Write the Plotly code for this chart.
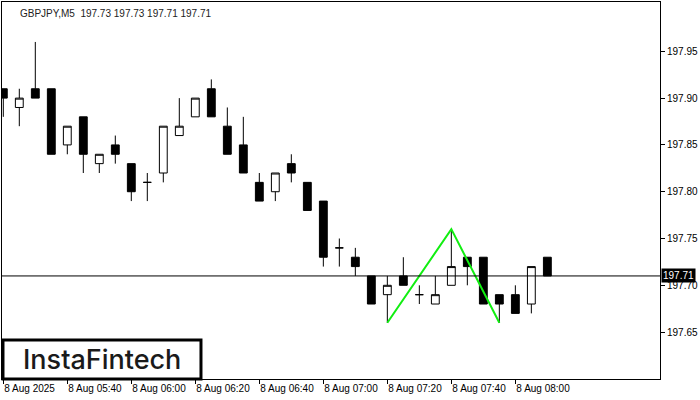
import plotly.graph_objects as go

symbol_title = "GBPJPY,M5  197.73 197.73 197.71 197.71"

times = ["05:20", "05:25", "05:30", "05:35", "05:40", "05:45", "05:50", "05:55",
         "06:00", "06:05", "06:10", "06:15", "06:20", "06:25", "06:30", "06:35",
         "06:40", "06:45", "06:50", "06:55", "07:00", "07:05", "07:10", "07:15",
         "07:20", "07:25", "07:30", "07:35", "07:40", "07:45", "07:50", "07:55",
         "08:00", "08:05", "08:10"]

opens = [197.91, 197.89, 197.91, 197.91, 197.85, 197.88, 197.83, 197.85,
         197.83, 197.81, 197.82, 197.86, 197.88, 197.91, 197.87, 197.85,
         197.81, 197.80, 197.83, 197.81, 197.79, 197.74, 197.73, 197.71,
         197.69, 197.71, 197.69, 197.68, 197.70, 197.73, 197.73, 197.69,
         197.69, 197.68, 197.73]
highs = [197.91, 197.91, 197.96, 197.91, 197.87, 197.88, 197.84, 197.86,
         197.83, 197.82, 197.87, 197.90, 197.90, 197.92, 197.89, 197.88,
         197.82, 197.82, 197.84, 197.81, 197.79, 197.75, 197.74, 197.71,
         197.71, 197.73, 197.70, 197.71, 197.76, 197.73, 197.73, 197.69,
         197.70, 197.72, 197.73]
lows = [197.88, 197.87, 197.90, 197.84, 197.84, 197.82, 197.82, 197.83,
        197.79, 197.79, 197.81, 197.86, 197.88, 197.88, 197.84, 197.82,
        197.79, 197.79, 197.81, 197.78, 197.72, 197.72, 197.71, 197.68,
        197.66, 197.70, 197.68, 197.68, 197.70, 197.70, 197.68, 197.66,
        197.67, 197.67, 197.71]
closes = [197.90, 197.90, 197.90, 197.84, 197.87, 197.84, 197.84, 197.84,
          197.80, 197.81, 197.87, 197.87, 197.90, 197.88, 197.84, 197.82,
          197.79, 197.82, 197.82, 197.78, 197.73, 197.74, 197.72, 197.68,
          197.70, 197.70, 197.69, 197.69, 197.72, 197.72, 197.68, 197.68,
          197.67, 197.72, 197.71]

last_price = 197.71

pattern_idx = [24, 28, 31]
pattern_price = [197.66, 197.76, 197.66]

x_tick_idx = [0, 4, 8, 12, 16, 20, 24, 28, 32]
x_tick_labels = ["8 Aug 2025", "8 Aug 05:40", "8 Aug 06:00", "8 Aug 06:20",
                 "8 Aug 06:40", "8 Aug 07:00", "8 Aug 07:20", "8 Aug 07:40",
                 "8 Aug 08:00"]
y_tick_vals = [197.65, 197.70, 197.75, 197.80, 197.85, 197.90, 197.95]
y_tick_labels = ["197.65", "197.70", "197.75", "197.80", "197.85", "197.90", "197.95"]

logo_text = "InstaFintech"

FONT = "Liberation Sans"

x_idx = list(range(len(times)))

fig = go.Figure()
fig.add_trace(go.Candlestick(
    x=x_idx, open=opens, high=highs, low=lows, close=closes,
    increasing=dict(line=dict(color="black", width=1), fillcolor="white"),
    decreasing=dict(line=dict(color="black", width=1), fillcolor="black"),
    whiskerwidth=0, showlegend=False, hoverinfo="skip",
))
fig.add_trace(go.Scatter(
    x=pattern_idx, y=pattern_price, mode="lines",
    line=dict(color="#11EE11", width=2), showlegend=False, hoverinfo="skip",
))

fig.add_shape(type="line", xref="paper", x0=0, x1=1, yref="y",
              y0=last_price, y1=last_price, line=dict(color="black", width=1))

fig.add_annotation(xref="paper", x=1.0, xanchor="left", yref="y", y=last_price,
                   yanchor="middle",
                   text=f"{last_price:.2f}", showarrow=False,
                   font=dict(family=FONT, size=10, color="white"),
                   bgcolor="black", borderpad=1, xshift=1)

fig.add_annotation(xref="paper", x=0.0243, xanchor="left", yref="paper", y=0.99,
                   yanchor="top", text=symbol_title, showarrow=False,
                   font=dict(family=FONT, size=10, color="#222222"))

fig.add_shape(type="rect", xref="paper", yref="paper", x0=0.0015, x1=0.3024,
              y0=0.0, y1=0.1034, line=dict(color="black", width=3),
              fillcolor="white", layer="above")
fig.add_annotation(xref="paper", yref="paper", x=0.152, y=0.052,
                   xanchor="center", yanchor="middle",
                   text=logo_text, showarrow=False,
                   font=dict(family="Inter", size=27, color="#1a1a1a", weight=500))

fig.update_layout(
    width=700, height=400,
    margin=dict(l=2, r=40, t=2, b=21),
    paper_bgcolor="white", plot_bgcolor="white",
    font=dict(family=FONT, size=10, color="black"),
    xaxis=dict(
        range=[-0.081, 41.04], rangeslider=dict(visible=False),
        tickmode="array", tickvals=x_tick_idx, ticktext=x_tick_labels,
        ticks="outside", ticklen=4, tickcolor="black",
        ticklabelposition="outside right",
        showgrid=False, zeroline=False,
        showline=True, linecolor="black", linewidth=1, mirror=True,
        tickfont=dict(family=FONT, size=10, color="black"),
    ),
    yaxis=dict(
        range=[197.5999, 198.0027], side="right",
        tickmode="array", tickvals=y_tick_vals, ticktext=y_tick_labels,
        ticks="outside", ticklen=4, tickcolor="black",
        showgrid=False, zeroline=False,
        showline=True, linecolor="black", linewidth=1, mirror=True,
        tickfont=dict(family=FONT, size=10, color="black"),
    ),
)

fig.write_html("out.html", config={"displayModeBar": False},
               post_script="document.body.style.margin='0px';")
